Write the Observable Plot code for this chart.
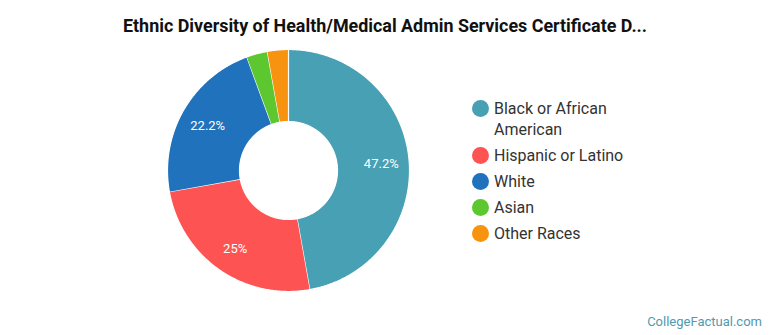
<!DOCTYPE html>
<html>
<head>
<meta charset="utf-8">
<script src="https://cdn.jsdelivr.net/npm/d3@7"></script>
<script src="https://cdn.jsdelivr.net/npm/@observablehq/plot@0.6"></script>
<style>
  html, body { margin: 0; padding: 0; background: #fff; }
  body { width: 770px; height: 335px; position: relative; overflow: hidden; font-family: Roboto, "Noto Sans", sans-serif; }
  #title { position: absolute; left: 0; top: 15px; width: 770px; text-align: center; font-weight: bold; font-size: 17.9px; color: #111; }
  #chart { position: absolute; left: 162px; top: 44px; }
  #legend { position: absolute; left: 472px; top: 98px; font-size: 16px; color: #333; }
  .item { position: relative; padding-left: 22px; line-height: 21px; margin-bottom: 5px; }
  .swatch { position: absolute; left: 0; top: 2px; width: 17px; height: 17px; border-radius: 50%; }
  #footer { position: absolute; right: 8px; bottom: 6px; font-size: 13px; color: #4f9ab0; }
</style>
</head>
<body>
<div id="title">Ethnic Diversity of Health/Medical Admin Services Certificate D...</div>
<div id="chart"></div>
<div id="legend"></div>
<div id="footer">CollegeFactual.com</div>
<script>
// Share of completers by ethnic group (percent)
const groups = ["Black or African American", "Hispanic or Latino", "White", "Asian", "Other Races"];
const shares = [47.2, 25, 22.2, 2.8, 2.8];
const colors = ["#48a0b4", "#fd5353", "#1f72bb", "#5cc72e", "#f7930f"];
const labelled = [true, true, true, false, false];

const outerR = 1;
const innerR = 49 / 121;
const labelR = 0.77;

// Slice angles, clockwise from 12 o'clock
const pie = d3.pie().sort(null).value(d => d.share)(
  groups.map((name, i) => ({name, share: shares[i], labelled: labelled[i]}))
);

// Outline of each donut slice as a polygon: outer arc forward, inner arc back
const outline = pie.flatMap(p => {
  const n = Math.max(4, Math.ceil((p.endAngle - p.startAngle) / 0.01));
  const pts = [];
  for (let k = 0; k <= n; ++k) {
    const a = p.startAngle + (p.endAngle - p.startAngle) * k / n;
    pts.push({name: p.data.name, x: outerR * Math.sin(a), y: outerR * Math.cos(a)});
  }
  for (let k = n; k >= 0; --k) {
    const a = p.startAngle + (p.endAngle - p.startAngle) * k / n;
    pts.push({name: p.data.name, x: innerR * Math.sin(a), y: innerR * Math.cos(a)});
  }
  return pts;
});

const labels = pie.filter(p => p.data.labelled).map(p => {
  const a = (p.startAngle + p.endAngle) / 2;
  return {x: labelR * Math.sin(a), y: labelR * Math.cos(a), text: `${p.data.share}%`};
});

const ext = 126 / 121;
const chart = Plot.plot({
  width: 252,
  height: 252,
  margin: 0,
  x: {domain: [-ext, ext], axis: null},
  y: {domain: [-ext, ext], axis: null},
  color: {domain: groups, range: colors},
  marks: [
    Plot.line(outline, {x: "x", y: "y", z: "name", fill: "name", stroke: "white", strokeWidth: 1.2, strokeLinejoin: "round"}),
    Plot.text(labels, {x: "x", y: "y", text: "text", fill: "white", fontSize: 13, dy: 1.5, fontFamily: "Roboto"})
  ]
});
document.getElementById("chart").appendChild(chart);

// Legend
const legend = d3.select("#legend");
const legendLines = {"Black or African American": ["Black or African", "American"]};
groups.forEach((g, i) => {
  const item = legend.append("div").attr("class", "item");
  item.append("span").attr("class", "swatch").style("background", colors[i]);
  (legendLines[g] || [g]).forEach(line => item.append("div").text(line));
});
</script>
</body>
</html>
